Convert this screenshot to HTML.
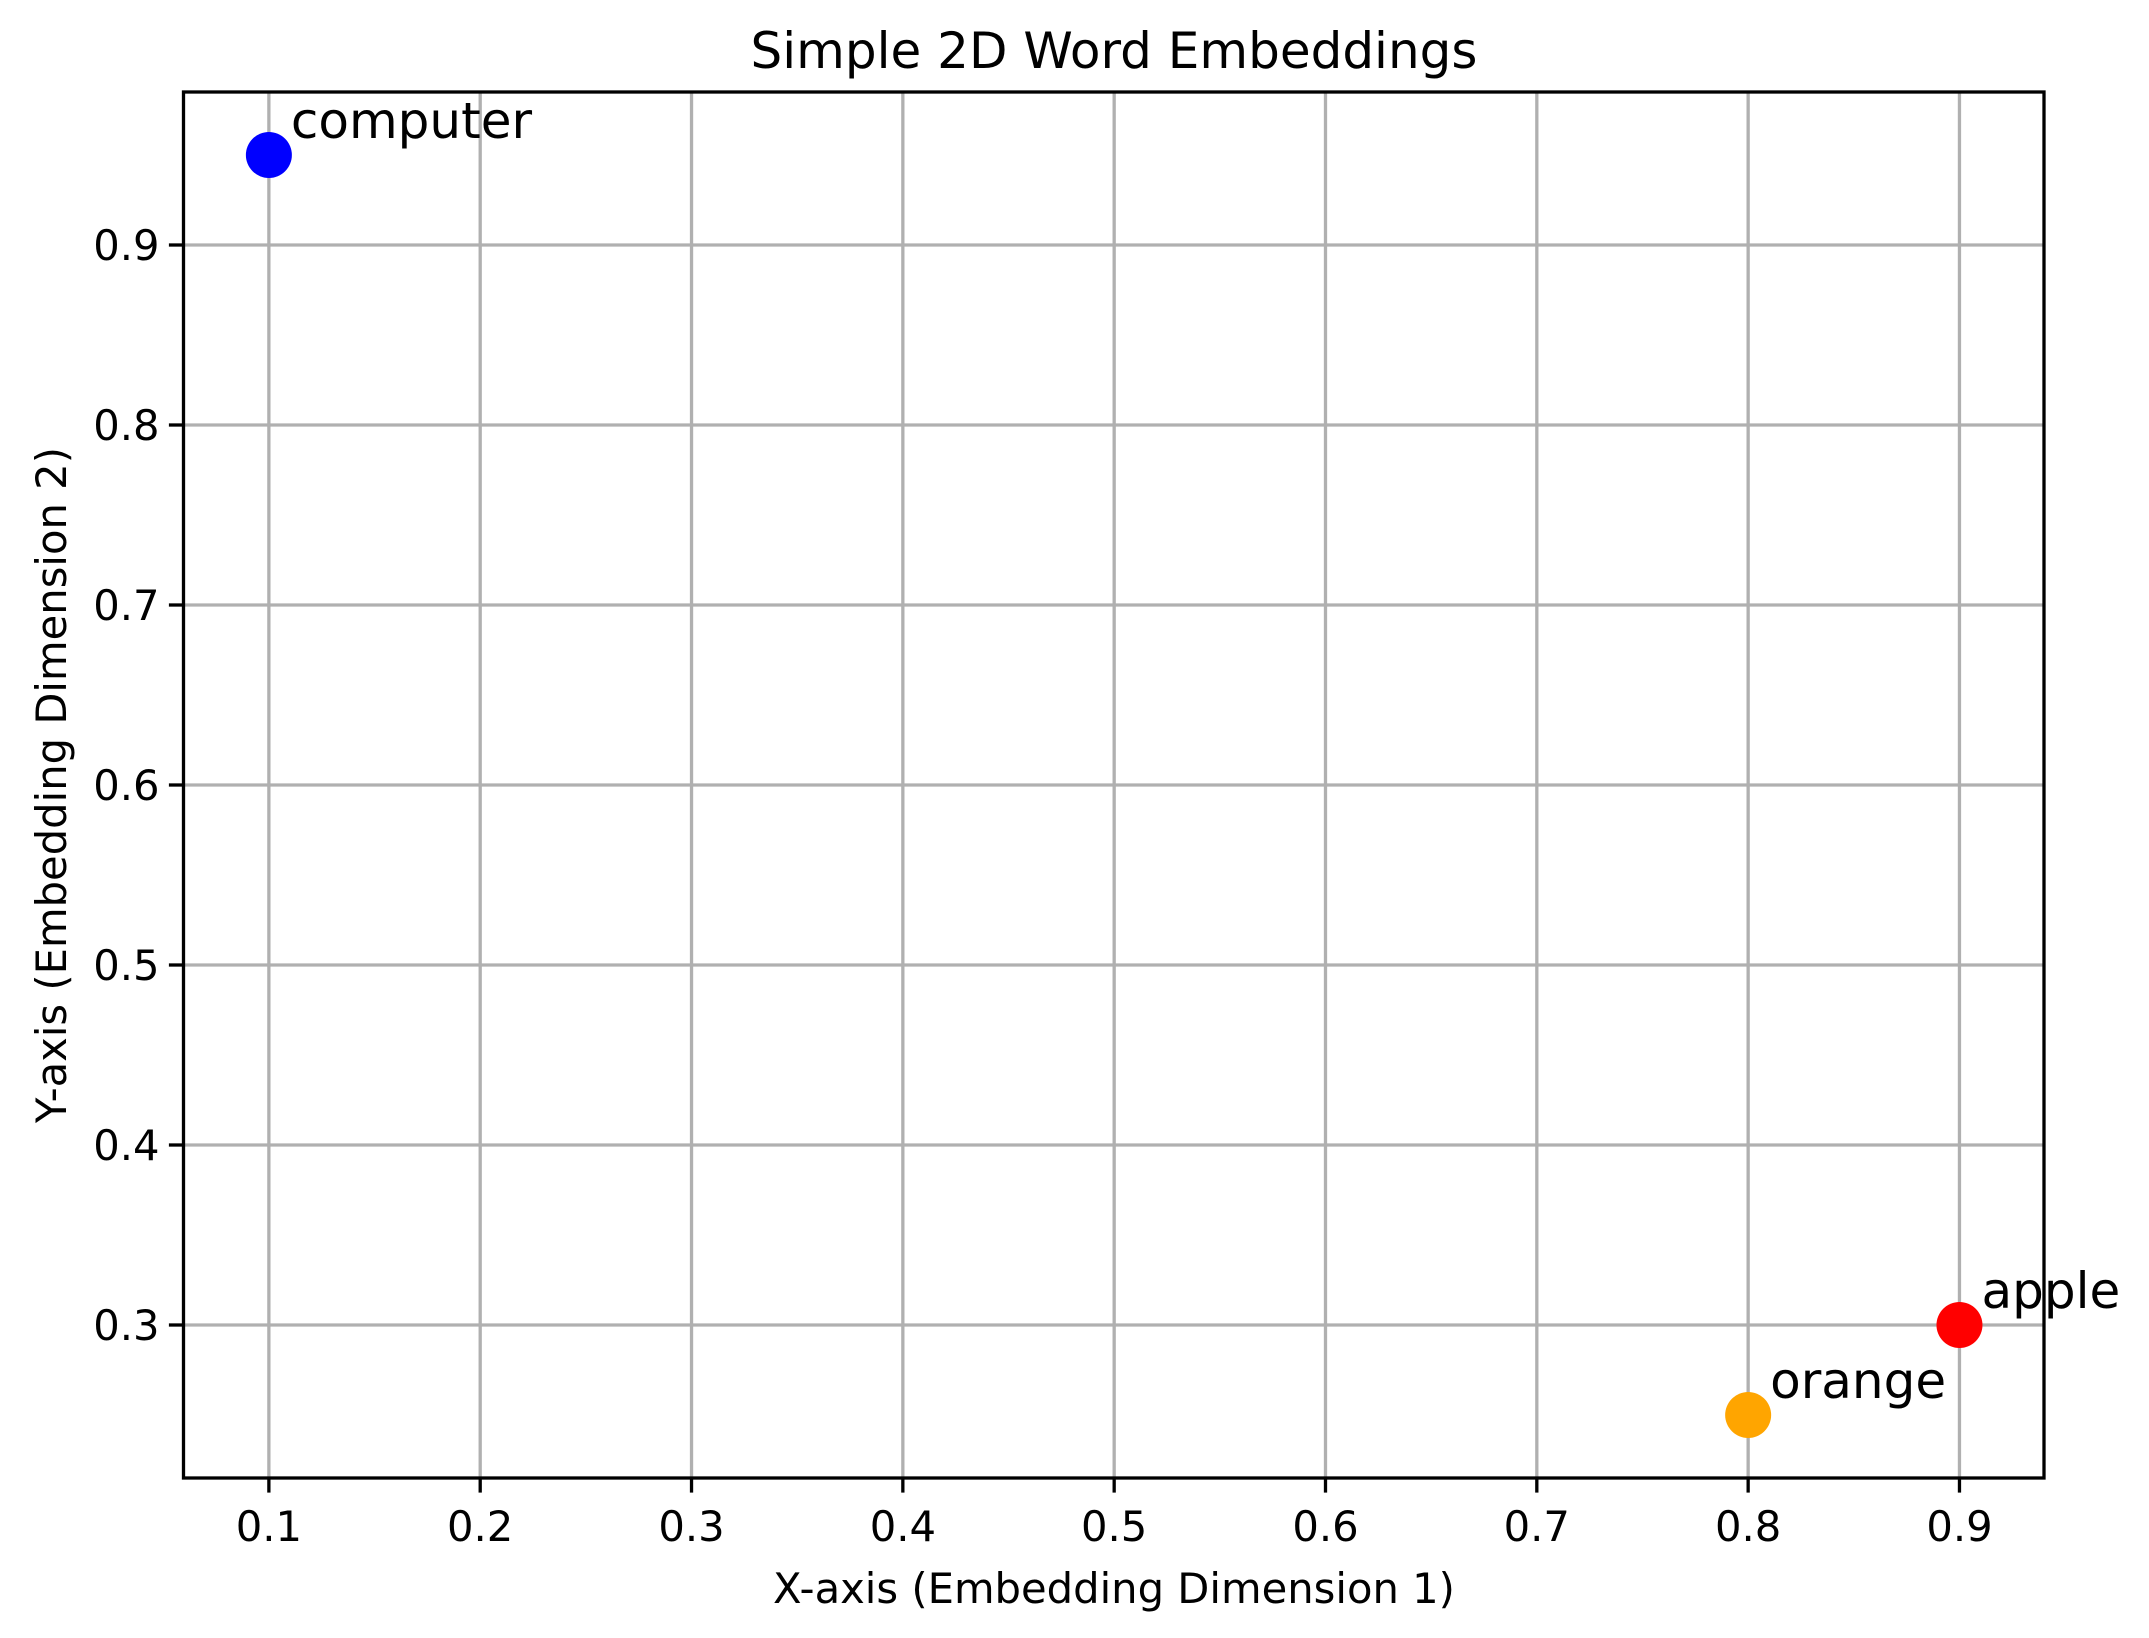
<!DOCTYPE html>
<html><head><meta charset="utf-8"><style>
html,body{margin:0;padding:0;background:#fff;}
svg{display:block;font-family:"DejaVu Sans","Liberation Sans",sans-serif;}
</style></head><body>
<svg id="chart" width="2149" height="1638" viewBox="0 0 2149 1638" xmlns="http://www.w3.org/2000/svg">
<rect width="2149" height="1638" fill="#fff"/>
<g id="grid"></g>
<g id="ticks"></g>
<rect x="183.5" y="92" width="1860.5" height="1386" fill="none" stroke="#000" stroke-width="3.3"/>
<g id="points"></g>
<text x="1114" y="68" font-size="50" text-anchor="middle">Simple 2D Word Embeddings</text>
<text x="1114" y="1603" font-size="41.7" text-anchor="middle">X-axis (Embedding Dimension 1)</text>
<text transform="translate(66,785) rotate(-90)" font-size="41.7" text-anchor="middle">Y-axis (Embedding Dimension 2)</text>
</svg>
<script>
const words = ["apple", "orange", "computer"];
const xValues = [0.9, 0.8, 0.1];
const yValues = [0.3, 0.25, 0.95];
const colors = ["red", "orange", "blue"];
const xTicks = [0.1, 0.2, 0.3, 0.4, 0.5, 0.6, 0.7, 0.8, 0.9];
const yTicks = [0.3, 0.4, 0.5, 0.6, 0.7, 0.8, 0.9];

const L = 183.5, R = 2044, T = 92, B = 1478;
const xMin = 0.0596, xMax = 0.94, yMin = 0.215, yMax = 0.985;
function sx(v){ return L + (v - xMin) / (xMax - xMin) * (R - L); }
function sy(v){ return B - (v - yMin) / (yMax - yMin) * (B - T); }
const NS = "http://www.w3.org/2000/svg";
function mk(tag, attrs, parent){
  const e = document.createElementNS(NS, tag);
  for (const k in attrs) e.setAttribute(k, attrs[k]);
  parent.appendChild(e);
  return e;
}
const grid = document.getElementById('grid');
const ticks = document.getElementById('ticks');
const pts = document.getElementById('points');
xTicks.forEach(v => {
  const x = sx(v);
  const g = mk('line', {x1:x, x2:x, y1:T, y2:B, stroke:'#b0b0b0', 'stroke-width':3.3}, grid);
  
  
  const t = mk('line', {x1:x, x2:x, y1:B, y2:B+14.6, stroke:'#000', 'stroke-width':3.3}, ticks);
  
  
  const l = mk('text', {x:x, y:1541, 'font-size':41.7, 'text-anchor':'middle'}, ticks);
  l.textContent = v.toFixed(1);
  
  
});
yTicks.forEach(v => {
  const y = sy(v);
  const g = mk('line', {x1:L, x2:R, y1:y, y2:y, stroke:'#b0b0b0', 'stroke-width':3.3}, grid);
  
  
  const t = mk('line', {x1:L-14.6, x2:L, y1:y, y2:y, stroke:'#000', 'stroke-width':3.3}, ticks);
  
  
  const l = mk('text', {x:L-24, y:y+15, 'font-size':41.7, 'text-anchor':'end'}, ticks);
  l.textContent = v.toFixed(1);
  
  
});
words.forEach((w, i) => {
  const cx = sx(xValues[i]), cy = sy(yValues[i]);
  const c = mk('circle', {cx:cx, cy:cy, r:23, fill:colors[i]}, pts);
  
  
  const t = mk('text', {x:cx+22, y:cy-17, 'font-size':50}, pts);
  t.textContent = w;
  
  
});
</script>
</body></html>
